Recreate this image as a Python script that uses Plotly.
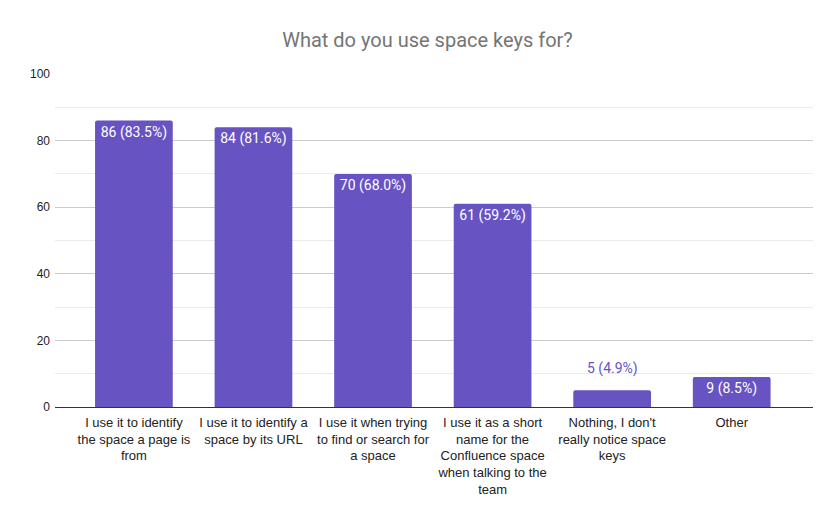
import plotly.graph_objects as go

# survey answers, counts and printed labels
categories = [
    "I use it to identify<br>the space a page is<br>from",
    "I use it to identify a<br>space by its URL",
    "I use it when trying<br>to find or search for<br>a space",
    "I use it as a short<br>name for the<br>Confluence space<br>when talking to the<br>team",
    "Nothing, I don't<br>really notice space<br>keys",
    "Other",
]
counts = [86, 84, 70, 61, 5, 9]
labels = ["86 (83.5%)", "84 (81.6%)", "70 (68.0%)", "61 (59.2%)", "5 (4.9%)", "9 (8.5%)"]

BAR = "#6753c2"

# bars too short for their label get it above, in the bar colour
small = [c < 7 for c in counts]
inside_text = ["" if s else t for s, t in zip(small, labels)]

fig = go.Figure()
fig.add_trace(go.Bar(
    x=list(range(len(categories))),
    y=counts,
    text=inside_text,
    textposition="inside",
    insidetextanchor="end",
    textangle=0,
    textfont=dict(family="Roboto", size=14, color="white"),
    constraintext="none",
    cliponaxis=False,
    marker=dict(color=BAR, line=dict(width=0), cornerradius=2),
    hoverinfo="skip",
))

for i, (c, t, s) in enumerate(zip(counts, labels, small)):
    if s:
        fig.add_annotation(
            x=i, y=c, text=t, showarrow=False,
            yanchor="middle", yshift=22,
            font=dict(family="Roboto", size=14, color=BAR),
        )

fig.update_layout(
    title=dict(
        text="What do you use space keys for?",
        x=0.5, xanchor="center", y=0.938, yanchor="middle",
        font=dict(family="Roboto", size=20, color="#757575"),
    ),
    width=839,
    height=519,
    margin=dict(l=47, r=34, t=66, b=120),
    paper_bgcolor="white",
    plot_bgcolor="white",
    bargap=0.35,
    showlegend=False,
    font=dict(family="Arial", size=12, color="#222222"),
    xaxis=dict(
        range=[-0.66, 5.68],
        tickvals=list(range(len(categories))),
        ticktext=categories,
        tickfont=dict(family="Arial", size=13, color="#222222"),
        showgrid=False,
        showline=True,
        linecolor="#333333",
        linewidth=1,
        ticks="",
        ticklabelstandoff=3,
        automargin=False,
    ),
    yaxis=dict(
        range=[0, 100],
        tickvals=[0, 20, 40, 60, 80, 100],
        tickfont=dict(family="Arial", size=12, color="#222222"),
        showgrid=True,
        gridcolor="#cccccc",
        gridwidth=1,
        zeroline=False,
        minor=dict(tickvals=[10, 30, 50, 70, 90], showgrid=True, gridcolor="#ebebeb", gridwidth=1),
        ticks="",
        ticklabelstandoff=4,
        automargin=False,
    ),
)

fig.write_html("out.html")
